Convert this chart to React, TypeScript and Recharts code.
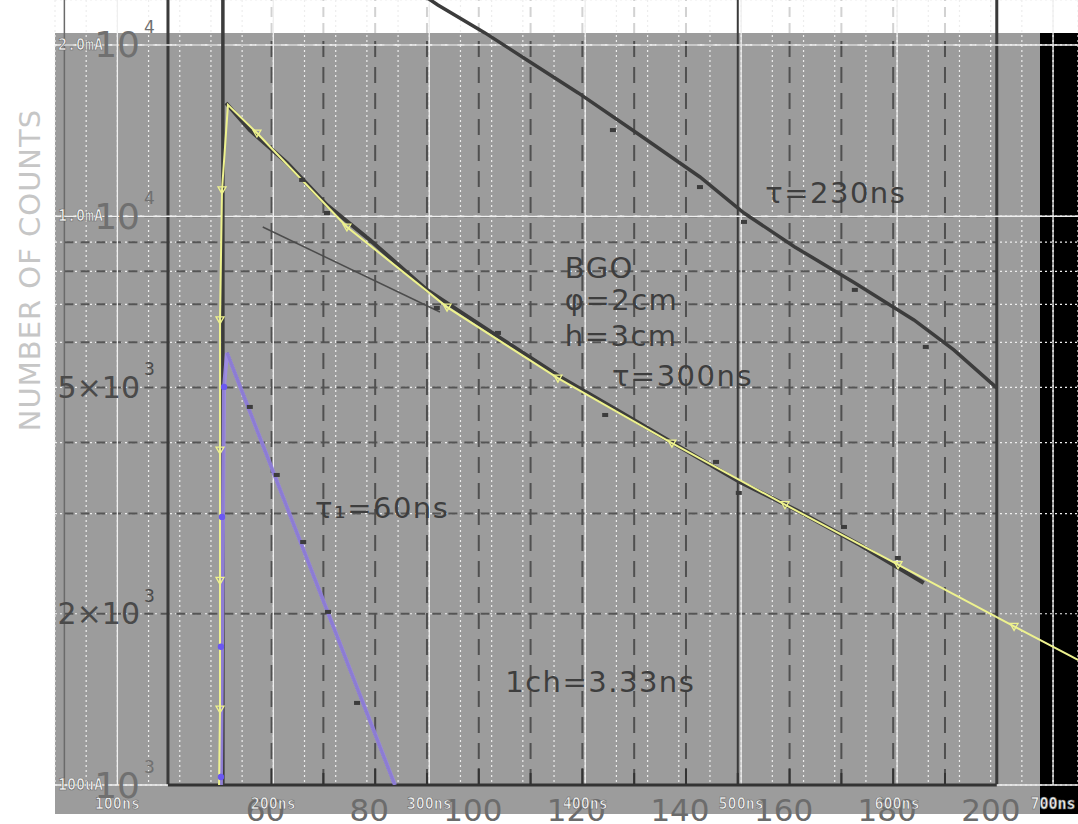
import React from "react";
import {
  ComposedChart,
  Line,
  Scatter,
  XAxis,
  YAxis,
  CartesianGrid,
  ReferenceLine,
  ReferenceDot,
} from "recharts";

// oscilloscope traces: time (ns) / current (mA), log scale
const yellowTrace = [
  { t: 165.2, mA: 0.1 },
  { t: 165.8, mA: 0.136 },
  { t: 165.8, mA: 0.229 },
  { t: 165.8, mA: 0.388 },
  { t: 165.8, mA: 0.657 },
  { t: 167.1, mA: 1.112 },
  { t: 170.9, mA: 1.569 },
  { t: 189.5, mA: 1.4 },
  { t: 247.2, mA: 0.957 },
  { t: 311.4, mA: 0.692 },
  { t: 382.5, mA: 0.519 },
  { t: 455.6, mA: 0.399 },
  { t: 528.1, mA: 0.311 },
  { t: 600.6, mA: 0.244 },
  { t: 675.0, mA: 0.19 },
  { t: 716.0, mA: 0.166 },
];
const yellowMarks = [
  { t: 165.8, mA: 0.136 },
  { t: 165.8, mA: 0.229 },
  { t: 165.8, mA: 0.388 },
  { t: 165.8, mA: 0.657 },
  { t: 167.1, mA: 1.112 },
  { t: 189.5, mA: 1.4 },
  { t: 247.2, mA: 0.957 },
  { t: 311.4, mA: 0.692 },
  { t: 382.5, mA: 0.519 },
  { t: 455.6, mA: 0.399 },
  { t: 528.1, mA: 0.311 },
  { t: 600.6, mA: 0.244 },
  { t: 675.0, mA: 0.19 },
];
const purpleTrace = [
  { t: 166.4, mA: 0.1 },
  { t: 168.4, mA: 0.501 },
  { t: 170.3, mA: 0.575 },
  { t: 278.0, mA: 0.1 },
];
const purpleMarks = [
  { t: 166.4, mA: 0.1033 },
  { t: 166.4, mA: 0.175 },
  { t: 167.1, mA: 0.296 },
  { t: 168.4, mA: 0.501 },
];

// scanned plot: channel / number of counts
const scan230 = [
  { ch: 50.6, n: 1000 },
  { ch: 50.6, n: 42300 },
  { ch: 92.1, n: 23510 },
  { ch: 101.2, n: 21000 },
  { ch: 109.9, n: 18670 },
  { ch: 119.2, n: 16470 },
  { ch: 130.5, n: 14000 },
  { ch: 142.7, n: 11720 },
  { ch: 151.2, n: 10130 },
  { ch: 161.0, n: 8830 },
  { ch: 172.6, n: 7630 },
  { ch: 184.0, n: 6570 },
  { ch: 191.7, n: 5820 },
  { ch: 200.0, n: 4990 },
];
const scan230Specks = [
  { ch: 125.9, n: 14170 },
  { ch: 142.7, n: 11250 },
  { ch: 151.2, n: 9770 },
  { ch: 172.6, n: 7420 },
  { ch: 186.3, n: 5890 },
];
const scanBgo = [
  { ch: 51.2, n: 15810 },
  { ch: 55.8, n: 14170 },
  { ch: 63.0, n: 12400 },
  { ch: 70.7, n: 10460 },
  { ch: 79.0, n: 9080 },
  { ch: 90.0, n: 7420 },
  { ch: 98.3, n: 6620 },
  { ch: 104.1, n: 6110 },
  { ch: 115.7, n: 5215 },
  { ch: 127.3, n: 4527 },
  { ch: 138.8, n: 3928 },
  { ch: 150.4, n: 3409 },
  { ch: 162.0, n: 3020 },
  { ch: 173.6, n: 2642 },
  { ch: 185.9, n: 2265 },
];
const scanBgoSpecks = [
  { ch: 65.9, n: 11580 },
  { ch: 70.7, n: 10130 },
  { ch: 91.9, n: 6896 },
  { ch: 103.7, n: 6234 },
  { ch: 124.4, n: 4472 },
  { ch: 145.8, n: 3698 },
  { ch: 150.2, n: 3262 },
  { ch: 170.5, n: 2842 },
  { ch: 180.9, n: 2507 },
];
const scanSlowFit = [
  { ch: 58.3, n: 9570 },
  { ch: 92.5, n: 6785 },
];
const scanFast = [
  { ch: 51.4, n: 5750 },
  { ch: 83.8, n: 1000 },
];
const scanFastSpecks = [
  { ch: 55.8, n: 4620 },
  { ch: 61.0, n: 3508 },
  { ch: 66.1, n: 2674 },
  { ch: 70.9, n: 2015 },
  { ch: 76.5, n: 1394 },
];

// axes and labels
const nsTicks = [80, 100, 120, 140, 160, 180, 200, 220, 240, 260, 280, 300, 320, 340, 360, 380, 400, 420, 440, 460, 480, 500, 520, 540, 560, 580, 600, 620, 640, 660, 680, 700];
const nsMajor = [100, 200, 300, 400, 500, 600, 700];
const mATicks = [0.2, 0.3, 0.4, 0.5, 0.6, 0.7, 0.8, 0.9, 1, 2];
const mALines = [2, 1, 0.1];
const mALabels = ["2.0mA", "1.0mA", "100uA"];
const chTicks = [60, 80, 100, 120, 140, 160, 180, 200];
const countTicks = [1000, 2000, 5000, 10000, 20000];
const countText = ["10", "2×10", "5×10", "10", "10"];
const countExp = ["3", "3", "3", "4", "4"];
const scanDashed = [60, 70, 80, 90, 100, 110, 120, 130, 140, 160, 170, 180, 190];
const scanSolid = [40, 150, 200];
const scanRows = [2000, 3000, 4000, 5000, 6000, 7000, 8000, 9000, 10000, 20000];
const scanTickMarks = [50, 60, 70, 80, 90, 100, 110, 120, 130, 140, 150, 160, 170, 180, 190];

const noteCh = [155.3, 116.6, 116.6, 116.6, 125.7, 68.4, 105.1];
const noteCounts = [10985, 8110, 7124, 6157, 5237, 3069, 1517];
const noteText = ["τ=230ns", "BGO", "φ=2cm", "h=3cm", "τ=300ns", "τ₁=60ns", "1ch=3.33ns"];

const SCAN_INK = "#3c3c3c";
const YELLOW = "#eef28e";
const PURPLE = "#9c8aec";

const scopeText = {
  fill: "#f4f4f4",
  stroke: "#6a6a6a",
  strokeWidth: 0.6,
  fontFamily: "DejaVu Sans Mono",
  fontWeight: "bold" as const,
  fontSize: 15,
};

// the "ch" axis sits right under the plot, the "ns" axis under it
const nsTick = ({ x, y, payload }: any) =>
  payload.value % 100 === 0 ? (
    <text x={x} y={y} textAnchor="middle" dominantBaseline="central" {...scopeText}>
      {payload.value}ns
    </text>
  ) : (
    <g />
  );

const chTick = ({ x, y, payload }: any) => (
  <text x={x - 6} y={y + 36} textAnchor="middle" fill="#6c6c6c" fontFamily="DejaVu Sans" fontSize={31}>
    {payload.value}
  </text>
);

const countTick = ({ y, payload }: any) => {
  const i = countTicks.indexOf(payload.value);
  if (i < 0) return <g />;
  const plain = countText[i] === "10";
  return (
    <g fill={plain ? "#707070" : "#4a4a4a"} fontFamily="DejaVu Sans">
      <text x={140} y={y} textAnchor="end" dominantBaseline="central" fontSize={plain ? 36 : 30}>
        {countText[i]}
      </text>
      <text x={144} y={y - 18} dominantBaseline="central" fontSize={17}>
        {countExp[i]}
      </text>
    </g>
  );
};

const MaLabel = ({ viewBox, text }: any) => (
  <text x={(viewBox?.x ?? 55) + 3} y={viewBox?.y ?? 0} dominantBaseline="central" {...scopeText}>
    {text}
  </text>
);

const CountsTitle = () => (
  <text
    x={30}
    y={270}
    transform="rotate(-90 30 270)"
    textAnchor="middle"
    dominantBaseline="central"
    fill="#c6c6c6"
    fontFamily="DejaVu Sans"
    fontSize={29}
    letterSpacing={1}
  >
    NUMBER OF COUNTS
  </text>
);

const speck = (p: any) => <rect x={p.cx - 3} y={p.cy - 2} width={6} height={4} fill={SCAN_INK} />;
const triDown = (p: any) => (
  <path
    d={`M${p.cx - 4},${p.cy - 3}L${p.cx + 4},${p.cy - 3}L${p.cx},${p.cy + 4}Z`}
    fill="none"
    stroke={YELLOW}
    strokeWidth={1.3}
  />
);
const purpleDot = (p: any) => <circle cx={p.cx} cy={p.cy} r={3.2} fill="#6a58f2" />;

export default function App() {
  return (
    <div style={{ position: "absolute", left: 0, top: 0, width: 1078, height: 824, background: "#fff", overflow: "hidden" }}>
      <div style={{ position: "absolute", left: 55, top: 33, width: 985, height: 781, background: "#9c9c9c" }} />
      <div style={{ position: "absolute", left: 1040, top: 33, width: 38, height: 781, background: "#000" }} />
      <div style={{ position: "absolute", left: 0, top: 0 }}>
        <ComposedChart width={1078} height={824} margin={{ top: 0, right: 0, bottom: 0, left: 0 }}>
          <XAxis
            xAxisId="ch"
            dataKey="ch"
            type="number"
            domain={[18.19, 215.68]}
            allowDataOverflow
            ticks={chTicks}
            interval={0}
            tickSize={0}
            tickMargin={0}
            axisLine={false}
            height={19}
            tick={chTick}
          />
          <XAxis
            xAxisId="ns"
            dataKey="t"
            type="number"
            domain={[60, 716]}
            allowDataOverflow
            ticks={nsTicks}
            interval={0}
            tickSize={0}
            tickMargin={0}
            axisLine={false}
            height={20}
            tick={nsTick}
          />
          <YAxis
            yAxisId="cnt"
            dataKey="n"
            type="number"
            scale="log"
            domain={[1000, 23990]}
            allowDataOverflow
            ticks={countTicks}
            interval={0}
            width={55}
            tickSize={0}
            axisLine={false}
            tick={countTick}
            label={<CountsTitle />}
          />
          <YAxis
            yAxisId="mA"
            dataKey="mA"
            type="number"
            scale="log"
            domain={[0.1, 2.399]}
            allowDataOverflow
            ticks={mATicks}
            interval={0}
            hide
          />

          {/* scanned plot grid */}
          {scanRows.map((n) => (
            <ReferenceLine
              key={`r${n}`}
              xAxisId="ch"
              yAxisId="cnt"
              segment={[{ x: 20, y: n }, { x: 200, y: n }]}
              stroke="#555"
              strokeWidth={2}
              strokeDasharray="9 7"
            />
          ))}
          {scanDashed.map((c) => (
            <ReferenceLine
              key={`d${c}`}
              xAxisId="ch"
              yAxisId="cnt"
              segment={[{ x: c, y: 1000 }, { x: c, y: 21000 }]}
              stroke="#505050"
              strokeWidth={2}
              strokeDasharray="16 10"
            />
          ))}
          {scanDashed.map((c) => (
            <ReferenceLine
              key={`u${c}`}
              xAxisId="ch"
              yAxisId="cnt"
              segment={[{ x: c, y: 21000 }, { x: c, y: 23990 }]}
              stroke="#d2d2d2"
              strokeWidth={2}
              strokeDasharray="10 6"
            />
          ))}
          {scanSolid.map((c) => (
            <ReferenceLine
              key={`s${c}`}
              xAxisId="ch"
              yAxisId="cnt"
              segment={[{ x: c, y: 1000 }, { x: c, y: 23990 }]}
              stroke="#3a3a3a"
              strokeWidth={c === 150 ? 2 : 3}
            />
          ))}
          <ReferenceLine
            xAxisId="ch"
            yAxisId="cnt"
            segment={[{ x: 20, y: 1000 }, { x: 20, y: 23990 }]}
            stroke="#6a6a6a"
            strokeWidth={1.5}
          />
          {scanTickMarks.map((c) => (
            <ReferenceLine
              key={`k${c}`}
              xAxisId="ch"
              yAxisId="cnt"
              segment={[{ x: c, y: 1000 }, { x: c, y: c % 20 === 0 ? 1070 : 1050 }]}
              stroke="#333"
              strokeWidth={2}
            />
          ))}

          {/* oscilloscope grid */}
          <CartesianGrid xAxisId="ns" yAxisId="mA" stroke="#ededed" strokeDasharray="2 3" strokeWidth={1.2} />
          {nsMajor.map((t) => (
            <ReferenceLine key={`v${t}`} xAxisId="ns" yAxisId="mA" x={t} stroke="#efefef" strokeWidth={1.3} />
          ))}
          {mALines.map((v, i) => (
            <ReferenceLine
              key={`h${v}`}
              xAxisId="ns"
              yAxisId="mA"
              y={v}
              stroke="#efefef"
              strokeWidth={1.5}
              label={<MaLabel text={mALabels[i]} />}
            />
          ))}
          <ReferenceLine
            xAxisId="ch"
            yAxisId="cnt"
            segment={[{ x: 40, y: 1000 }, { x: 200, y: 1000 }]}
            stroke="#333"
            strokeWidth={3}
          />

          {/* scanned data */}
          <Line xAxisId="ch" yAxisId="cnt" data={scan230} dataKey="n" type="linear" stroke={SCAN_INK} strokeWidth={3.5} dot={false} isAnimationActive={false} />
          <Scatter xAxisId="ch" yAxisId="cnt" data={scan230Specks} dataKey="n" shape={speck} isAnimationActive={false} />
          <Line xAxisId="ch" yAxisId="cnt" data={scanBgo} dataKey="n" type="linear" stroke={SCAN_INK} strokeWidth={4} dot={false} isAnimationActive={false} />
          <Scatter xAxisId="ch" yAxisId="cnt" data={scanBgoSpecks} dataKey="n" shape={speck} isAnimationActive={false} />
          <Line xAxisId="ch" yAxisId="cnt" data={scanSlowFit} dataKey="n" type="linear" stroke="#4c4c4c" strokeWidth={1.5} dot={false} isAnimationActive={false} />
          <Line xAxisId="ch" yAxisId="cnt" data={scanFast} dataKey="n" type="linear" stroke="#2e2e44" strokeWidth={3} dot={false} isAnimationActive={false} />
          <Scatter xAxisId="ch" yAxisId="cnt" data={scanFastSpecks} dataKey="n" shape={speck} isAnimationActive={false} />

          {noteText.map((s, i) => (
            <ReferenceDot
              key={s}
              xAxisId="ch"
              yAxisId="cnt"
              x={noteCh[i]}
              y={noteCounts[i]}
              r={0}
              shape={(p: any) => (
                <text
                  x={p.cx}
                  y={p.cy}
                  dominantBaseline="central"
                  fill="#3e3e3e"
                  fontFamily="DejaVu Sans"
                  fontSize={29}
                  letterSpacing={1.5}
                >
                  {s}
                </text>
              )}
            />
          ))}

          {/* oscilloscope traces */}
          <Line xAxisId="ns" yAxisId="mA" data={purpleTrace} dataKey="mA" type="linear" stroke={PURPLE} strokeOpacity={0.85} strokeWidth={4} dot={false} isAnimationActive={false} />
          <Scatter xAxisId="ns" yAxisId="mA" data={purpleMarks} dataKey="mA" shape={purpleDot} isAnimationActive={false} />
          <Line xAxisId="ns" yAxisId="mA" data={yellowTrace} dataKey="mA" type="linear" stroke={YELLOW} strokeWidth={2} dot={false} isAnimationActive={false} />
          <Scatter xAxisId="ns" yAxisId="mA" data={yellowMarks} dataKey="mA" shape={triDown} isAnimationActive={false} />
        </ComposedChart>
      </div>
    </div>
  );
}
